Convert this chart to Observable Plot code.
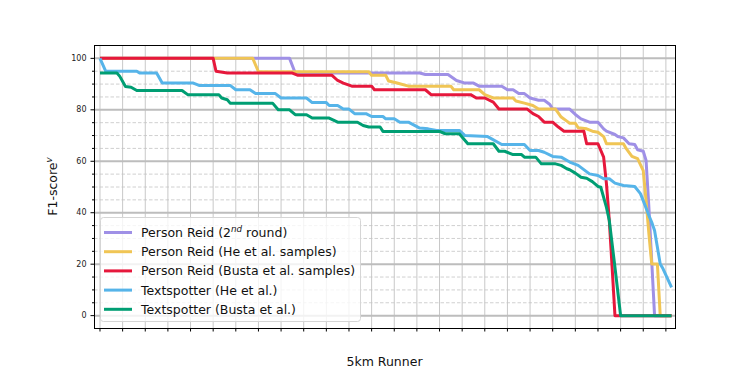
<!DOCTYPE html>
<html><head><meta charset="utf-8">
<script src="https://cdn.jsdelivr.net/npm/d3@7"></script>
<script src="https://cdn.jsdelivr.net/npm/@observablehq/plot@0.6"></script>
<style>
html,body{margin:0;padding:0;background:#fff;}
#chart{position:relative;width:750px;height:375px;}
</style></head><body><div id="chart"></div>
<script>
// ---- data (runner rank on x, F1-score on y) ----
const seriesNames = ["Person Reid (2nd round)", "Person Reid (He et al. samples)", "Person Reid (Busta et al. samples)", "Textspotter (He et al.)", "Textspotter (Busta et al.)"];
const seriesColors = ["#9f90e6", "#f0c555", "#e6183c", "#56b4e9", "#009e73"];

const purpleX = [0,67,69,113,115,123,126,129,132,134,142,144,146,148,150,152,155,157,159,160,166,168,170,173,176,178,179,182,183,185,187,189,190,192,193,194,195,196,202];
const purpleY = [100,100,94.3,94.3,93.7,93.7,91.4,90.4,90.4,89.2,89.2,87.8,87.8,86.3,86.3,84.6,83.7,83.7,82.1,80.3,80.3,78.2,76.5,75.2,75.2,72.6,71.7,70.4,69.6,69.1,66.8,66.5,64.5,63.9,60.3,42,21,0,0];

const yellowX = [0,54,56,95,96,101,102,105,109,124,125,134,136,139,146,147,150,153,155,161,163,165,166,168,169,172,174,176,178,179,185,186,188,190,192,193,194,195,197,198,202];
const yellowY = [100,100,94.8,94.8,93.4,93.4,91.2,90.4,89.2,89.2,87.8,87.8,85.9,84.6,84.6,83.4,82.6,81.7,80.3,80.3,77.2,75.6,74.8,74.8,73,72.6,71.7,71.3,69.6,66.8,66.8,64.9,61.9,61,56.4,44.7,31.8,20.1,20.1,0,0];

const redX = [0,40,41,45,68,70,82,84,86,89,96,97,115,117,131,133,136,139,141,151,153,155,157,160,162,164,171,172,176,178,179,180,181,182,202];
const redY = [100,100,95,94.3,94.3,93.4,93.4,91.4,90.4,89.2,89.2,87.8,87.8,85.9,85.9,84.6,84.6,83,80.3,80.3,78.5,77.4,75.2,75.2,73.3,71.7,71.7,66.8,66.8,61.6,51.2,37,18.8,0,0];

const blueX = [0,2,13,14,20,22,33,35,46,48,53,55,62,64,73,75,80,81,84,86,88,90,94,96,100,101,104,106,109,113,116,119,127,129,137,142,150,152,155,157,160,163,166,169,173,176,178,180,182,185,189,191,192,194,195,196,198,199,202];
const blueY = [100,95,95,94.3,94.3,90.4,90.4,89.5,89.5,87.8,87.8,86.3,86.3,84.6,84.6,82.8,82.8,81.7,81.7,80.3,80.3,78.5,78.5,77.4,77.4,76.5,76.5,75.2,75.2,72.9,72.6,72,72,70,69.6,66.5,66.5,64.2,64.2,63.5,61.9,61.6,59.7,58.4,55.1,54.5,53.2,53.2,51.5,50.6,50.2,47.4,44.7,38.9,36.3,33.1,20.1,18.2,11];

const greenX = [0,6,7,9,11,13,29,31,42,43,45,46,61,63,67,69,73,75,81,84,91,93,95,99,100,120,122,127,130,139,141,143,146,149,150,154,156,161,163,165,166,168,170,172,174,176,177,179,180,182,184,202];
const greenY = [94.3,94.3,93,89.1,88.8,87.5,87.5,85.9,85.9,84.6,83.9,82.6,82.6,80,80,78.1,78.1,76.8,76.8,75.2,75.2,73.9,73.3,73.3,71.6,71.6,70.7,70.7,66.8,66.8,63.9,63.9,62.6,62.6,61.6,61.6,59,59,58.4,57.1,56.7,55.4,53.8,53.4,52.1,50.2,49.9,42.1,37,18.8,0,0];

const xTicks = [0,8,16,24,32,40,48,56,64,72,80,88,96,104,112,120,128,136,144,152,160,168,176,184,192,200];
const yMajorTicks = [0,20,40,60,80,100];
const yMinorTicks = [5,10,15,25,30,35,45,50,55,65,70,75,85,90,95];
const xLabel = "5km Runner";

// ---- build ----
const seriesXY = [[purpleX, purpleY],[yellowX, yellowY],[redX, redY],[blueX, blueY],[greenX, greenY]];
const series = seriesNames.map((name, i) => ({
  name, color: seriesColors[i],
  rows: seriesXY[i][0].map((x, j) => ({x, y: seriesXY[i][1][j]}))
}));

const W = 750, H = 375;
const mL = 94, mR = 75, mT = 45, mB = 47;

const plot = Plot.plot({
  width: W, height: H,
  marginLeft: mL, marginRight: mR, marginTop: mT, marginBottom: mB,
  style: {fontFamily: "DejaVu Sans, sans-serif", fontSize: "8px", background: "#fff", color: "#222", overflow: "visible"},
  x: {domain: [-1.94, 203.4], label: null},
  y: {domain: [-5, 105], label: null},
  marks: [
    Plot.gridX(xTicks, {stroke: "#c8c8c8", strokeOpacity: 1, strokeWidth: 1}),
    Plot.gridY(yMinorTicks, {stroke: "#c4c4c4", strokeOpacity: 1, strokeWidth: 0.8, strokeDasharray: "3.5,2"}),
    Plot.gridY(yMajorTicks, {stroke: "#bdbdbd", strokeOpacity: 1, strokeWidth: 2}),
    ...series.map(s => Plot.line(s.rows, {x: "x", y: "y", stroke: s.color, strokeWidth: 3, strokeLinejoin: "round", strokeLinecap: "butt"})),
    Plot.frame({stroke: "#000", strokeWidth: 1}),
    Plot.axisY(yMajorTicks, {tickSize: 3.5, tickPadding: 4.5, fontSize: 8, label: null, stroke: "#000", fill: "#222"}),
    Plot.axisY(yMinorTicks, {tickSize: 2, tickFormat: () => "", label: null, stroke: "#000"}),
    Plot.axisX(xTicks, {tickSize: 3.5, tickFormat: () => "", label: null, stroke: "#000"})
  ]
});

document.getElementById("chart").appendChild(plot);
const svg = d3.select(plot);
const ff = "DejaVu Sans, sans-serif";

// x label
svg.append("text").attr("x", (mL + W - mR) / 2).attr("y", 366)
  .attr("text-anchor", "middle").attr("font-family", ff).attr("font-size", 12.5).attr("fill", "#111")
  .text(xLabel);

// y label with superscript
const yl = svg.append("text").attr("transform", `translate(57,${(mT + H - mB) / 2}) rotate(-90)`)
  .attr("text-anchor", "middle").attr("font-family", ff).attr("font-size", 12.5).attr("fill", "#111");
yl.append("tspan").text("F1-score");
yl.append("tspan").attr("dy", -5).attr("font-size", 8.75).attr("font-style", "italic").text("v");

// legend
const lg = svg.append("g").attr("text-anchor", "start");
lg.append("rect").attr("x", 100.5).attr("y", 217.5).attr("width", 260).attr("height", 104)
  .attr("rx", 3).attr("fill", "#fff").attr("fill-opacity", 0.8).attr("stroke", "#d5d5d5").attr("stroke-width", 1);
series.forEach((s, i) => {
  const cy = 232.5 + i * 19.2;
  lg.append("line").attr("x1", 104).attr("x2", 132).attr("y1", cy).attr("y2", cy)
    .attr("stroke", s.color).attr("stroke-width", 3);
  const t = lg.append("text").attr("x", 141).attr("y", cy).attr("dy", "0.36em")
    .attr("text-anchor", "start")
    .attr("font-family", ff).attr("font-size", 12.5).attr("fill", "#111");
  if (i === 0) {
    t.append("tspan").text("Person Reid (2");
    t.append("tspan").attr("dy", -5).attr("font-size", 8.75).attr("font-style", "italic").text("nd");
    t.append("tspan").attr("dy", 5).text(" round)");
  } else {
    t.text(s.name);
  }
});
</script>
</body></html>
